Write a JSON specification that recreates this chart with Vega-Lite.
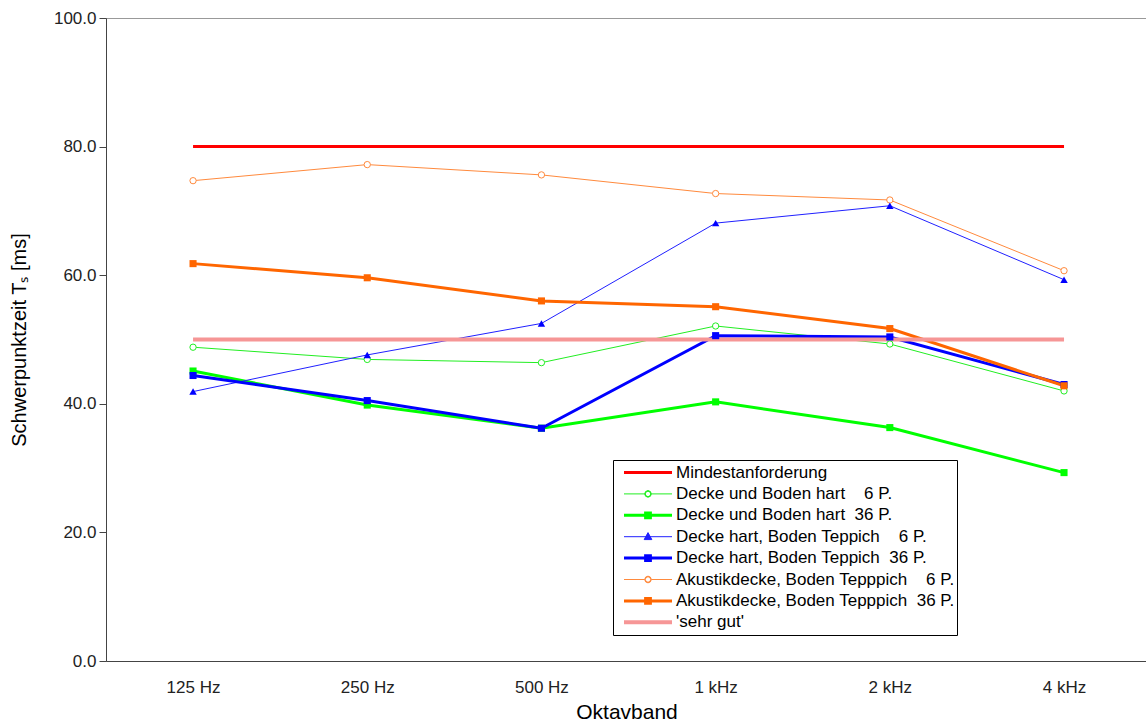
{
  "$schema": "https://vega.github.io/schema/vega-lite/v6.json",
  "width": 1041,
  "height": 643,
  "autosize": "none",
  "padding": {"left": 106, "top": 18, "right": 0, "bottom": 66},
  "background": "white",
  "config": {
    "font": "Liberation Sans",
    "view": {"stroke": "#999999", "strokeWidth": 1},
    "axis": {"grid": false}
  },
  "data": {
    "values": [
      {"b": "125 Hz", "k": 0, "v": 80}, {"b": "250 Hz", "k": 0, "v": 80}, {"b": "500 Hz", "k": 0, "v": 80}, {"b": "1 kHz", "k": 0, "v": 80}, {"b": "2 kHz", "k": 0, "v": 80}, {"b": "4 kHz", "k": 0, "v": 80},
      {"b": "125 Hz", "k": 1, "v": 48.8}, {"b": "250 Hz", "k": 1, "v": 46.9}, {"b": "500 Hz", "k": 1, "v": 46.4}, {"b": "1 kHz", "k": 1, "v": 52.1}, {"b": "2 kHz", "k": 1, "v": 49.3}, {"b": "4 kHz", "k": 1, "v": 42.0},
      {"b": "125 Hz", "k": 2, "v": 45.1}, {"b": "250 Hz", "k": 2, "v": 39.8}, {"b": "500 Hz", "k": 2, "v": 36.2}, {"b": "1 kHz", "k": 2, "v": 40.3}, {"b": "2 kHz", "k": 2, "v": 36.3}, {"b": "4 kHz", "k": 2, "v": 29.3},
      {"b": "125 Hz", "k": 3, "v": 41.9}, {"b": "250 Hz", "k": 3, "v": 47.6}, {"b": "500 Hz", "k": 3, "v": 52.5}, {"b": "1 kHz", "k": 3, "v": 68.1}, {"b": "2 kHz", "k": 3, "v": 70.8}, {"b": "4 kHz", "k": 3, "v": 59.3},
      {"b": "125 Hz", "k": 4, "v": 44.4}, {"b": "250 Hz", "k": 4, "v": 40.5}, {"b": "500 Hz", "k": 4, "v": 36.2}, {"b": "1 kHz", "k": 4, "v": 50.6}, {"b": "2 kHz", "k": 4, "v": 50.4}, {"b": "4 kHz", "k": 4, "v": 43.0},
      {"b": "125 Hz", "k": 5, "v": 74.7}, {"b": "250 Hz", "k": 5, "v": 77.2}, {"b": "500 Hz", "k": 5, "v": 75.6}, {"b": "1 kHz", "k": 5, "v": 72.7}, {"b": "2 kHz", "k": 5, "v": 71.7}, {"b": "4 kHz", "k": 5, "v": 60.7},
      {"b": "125 Hz", "k": 6, "v": 61.8}, {"b": "250 Hz", "k": 6, "v": 59.6}, {"b": "500 Hz", "k": 6, "v": 56.0}, {"b": "1 kHz", "k": 6, "v": 55.1}, {"b": "2 kHz", "k": 6, "v": 51.7}, {"b": "4 kHz", "k": 6, "v": 42.8},
      {"b": "125 Hz", "k": 7, "v": 50}, {"b": "250 Hz", "k": 7, "v": 50}, {"b": "500 Hz", "k": 7, "v": 50}, {"b": "1 kHz", "k": 7, "v": 50}, {"b": "2 kHz", "k": 7, "v": 50}, {"b": "4 kHz", "k": 7, "v": 50}
    ]
  },
  "encoding": {
    "x": {
      "field": "b", "type": "ordinal",
      "sort": ["125 Hz", "250 Hz", "500 Hz", "1 kHz", "2 kHz", "4 kHz"],
      "scale": {"type": "point", "padding": 0.488, "align": 0.512},
      "axis": {
        "title": "Oktavband", "titleFont": "Liberation Sans", "titleFontSize": 21, "titleFontWeight": "normal", "titleColor": "#000000", "titlePadding": 6,
        "labelFont": "Liberation Sans", "labelFontSize": 17, "labelColor": "#222222", "labelPadding": 18, "labelAngle": 0,
        "ticks": false, "domainColor": "#444444", "grid": false
      }
    },
    "y": {
      "field": "v", "type": "quantitative",
      "scale": {"domain": [0, 100], "nice": false, "zero": true},
      "axis": {
        "title": "Schwerpunktzeit Tₛ [ms]", "titleFont": "Liberation Sans", "titleFontSize": 20, "titleFontWeight": "normal", "titleColor": "#000000", "titlePadding": 24,
        "values": [0, 20, 40, 60, 80, 100], "format": ".1f",
        "labelFont": "Liberation Sans", "labelFontSize": 17, "labelColor": "#222222", "labelPadding": 3,
        "tickSize": 7, "tickColor": "#444444", "domainColor": "#444444", "grid": false
      }
    }
  },
  "layer": [
    {
      "mark": {"type": "line", "interpolate": "linear"},
      "encoding": {
        "color": {
          "field": "k", "type": "nominal",
          "scale": {"domain": [0, 1, 2, 3, 4, 5, 6, 7], "range": ["#ff0000", "#22ee22", "#00ff00", "#2020ff", "#0000ff", "#ff8a3d", "#ff6600", "#f69696"]},
          "legend": {
            "orient": "none", "legendX": 507, "legendY": 442, "title": null,
            "labelExpr": "['Mindestanforderung', 'Decke und Boden hart\u00a0\u00a0\u00a0\u00a06 P.', 'Decke und Boden hart\u00a0\u00a036 P.', 'Decke hart, Boden Teppich\u00a0\u00a0\u00a0\u00a06 P.', 'Decke hart, Boden Teppich\u00a0\u00a036 P.', 'Akustikdecke, Boden Tepppich\u00a0\u00a0\u00a0\u00a06 P.', 'Akustikdecke, Boden Tepppich\u00a0\u00a036 P.', '\u00a0\\'sehr gut\\''][datum.value]",
            "labelFont": "Liberation Sans", "labelFontSize": 17, "labelColor": "#000000", "labelLimit": 500,
            "strokeColor": "#000000", "fillColor": "#ffffff", "padding": 2,
            "symbolSize": 2304, "clipHeight": 21, "rowPadding": 0.4,
            "symbolOffset": 7, "labelOffset": 2,
            "encode": {
              "symbols": {
                "update": {
                  "shape": {"signal": "['M-1,0H1', 'M-1,0H-0.14M0.14,0H1M0.14,0L0.099,0.099L0,0.14L-0.099,0.099L-0.14,0L-0.099,-0.099L0,-0.14L0.099,-0.099ZM0.115,0L0.081,-0.081L0,-0.115L-0.081,-0.081L-0.115,0L-0.081,0.081L0,0.115L0.081,0.081Z', 'M-1,0H1M-0.1,-0.1H0.1V0.1H-0.1Z', 'M-1,0H1M0,-0.17L0.16,0.12H-0.16Z', 'M-1,0H1M-0.1,-0.1H0.1V0.1H-0.1Z', 'M-1,0H-0.14M0.14,0H1M0.14,0L0.099,0.099L0,0.14L-0.099,0.099L-0.14,0L-0.099,-0.099L0,-0.14L0.099,-0.099ZM0.115,0L0.081,-0.081L0,-0.115L-0.081,-0.081L-0.115,0L-0.081,0.081L0,0.115L0.081,0.081Z', 'M-1,0H1M-0.1,-0.1H0.1V0.1H-0.1Z', 'M-1,0H1'][datum.value]"},
                  "strokeWidth": {"signal": "[3, 1, 3, 1, 3, 1, 3, 4][datum.value]"},
                  "size": {"value": 2304},
                  "opacity": {"value": 1}
                }
              }
            }
          }
        },
        "strokeWidth": {
          "field": "k", "type": "nominal",
          "scale": {"type": "ordinal", "domain": [0, 1, 2, 3, 4, 5, 6, 7], "range": [3, 1, 3, 1, 3, 1, 3, 4]},
          "legend": null
        }
      }
    },
    {
      "transform": [{"filter": {"field": "k", "oneOf": [1, 5]}}],
      "mark": {"type": "point", "shape": "circle", "size": 40, "filled": true, "fill": "#ffffff", "strokeWidth": 1, "opacity": 1},
      "encoding": {
        "stroke": {
          "field": "k", "type": "nominal",
          "scale": {"domain": [0, 1, 2, 3, 4, 5, 6, 7], "range": ["#ff0000", "#22ee22", "#00ff00", "#2020ff", "#0000ff", "#ff8a3d", "#ff6600", "#f69696"]},
          "legend": null
        }
      }
    },
    {
      "transform": [{"filter": {"field": "k", "oneOf": [2, 4, 6]}}],
      "mark": {"type": "point", "shape": "square", "size": 50, "filled": true, "opacity": 1},
      "encoding": {
        "fill": {
          "field": "k", "type": "nominal",
          "scale": {"domain": [0, 1, 2, 3, 4, 5, 6, 7], "range": ["#ff0000", "#22ee22", "#00ff00", "#2020ff", "#0000ff", "#ff8a3d", "#ff6600", "#f69696"]},
          "legend": null
        }
      }
    },
    {
      "transform": [{"filter": {"field": "k", "equal": 3}}],
      "mark": {"type": "point", "shape": "triangle-up", "size": 55, "filled": true, "opacity": 1, "fill": "#0000ff"},
      "encoding": {}
    }
  ]
}
